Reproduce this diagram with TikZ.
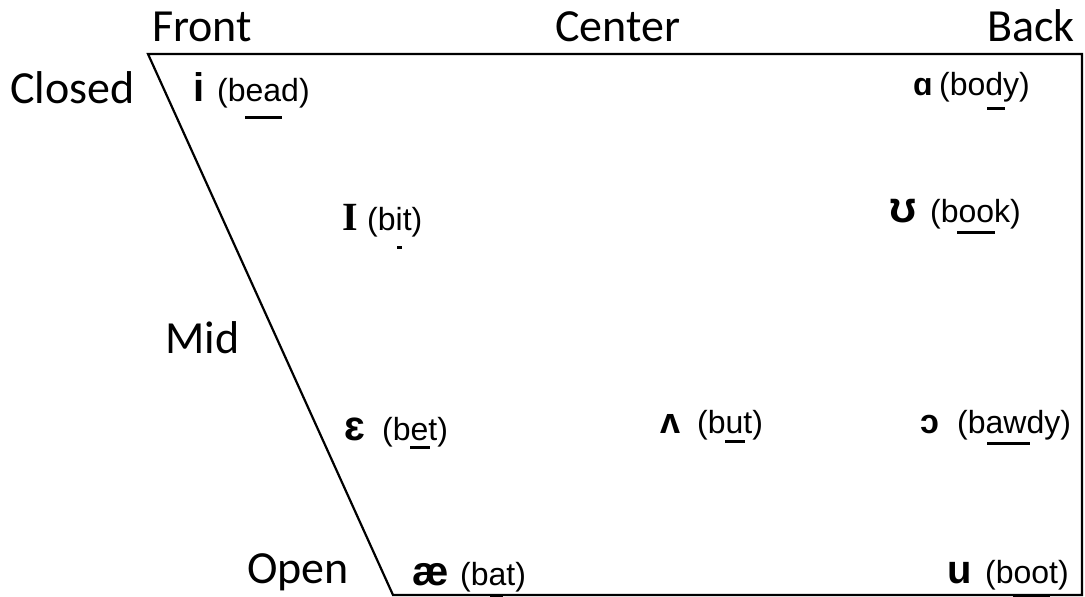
\documentclass[tikz,border=0pt]{standalone}
\usepackage{fontspec}
\setmainfont{Liberation Sans}
\newfontfamily\labfont{Carlito}
\newfontfamily\serfont{Liberation Serif}
\begin{document}
\begin{tikzpicture}[x=1pt,y=-1pt,
  lab/.style={inner sep=0, anchor=base west, font=\labfont\fontsize{46}{50}\selectfont},
  word/.style={inner sep=0, anchor=base west, font=\fontsize{32}{36}\selectfont},
  sym/.style={inner sep=0, anchor=base west, font=\bfseries\fontsize{#1}{44}\selectfont},
  sym/.default=36,
  frame/.style={line width=2.2pt, line join=miter},
  ul/.style={line width=3pt}]
\useasboundingbox (0,0) rectangle (1085,597);
\draw[frame] (148,54) -- (1082,54) -- (1082,595) -- (393,595) -- cycle;
% axis labels
\node[lab] (front) at (152,41) {Front};
\node[lab] (center) at (555,41) {Center};
\node[lab, anchor=base east] (back) at (1075,41) {Back};
\node[lab] (closed) at (10,103) {Closed};
\node[lab] (mid) at (165,353) {Mid};
\node[lab] (open) at (247,583) {Open};
% symbols
\node[sym=40] (si) at (193,101) {i};
\node[sym=32] (sa) at (913,95) {ɑ};
\node[sym, font=\serfont\bfseries\fontsize{40}{44}\selectfont] (sI) at (342,230) {I};
\node[sym=44] (su) at (889,222) {ʊ};
\node[sym=42] (se) at (344,440) {ɛ};
\node[sym=36] (sv) at (660,433) {ʌ};
\node[sym=34] (so) at (920,433) {ɔ};
\node[sym=41] (sae) at (412,585) {æ};
\node[sym=40] (sU) at (947,583) {u};
% words
\node[word] (wbead) at (217,101) {(bead)};
\node[word] (wbody) at (939,95) {(body)};
\node[word] (wbit) at (367,230) {(bit)};
\node[word] (wbook) at (930,222) {(book)};
\node[word] (wbet) at (382,440) {(bet)};
\node[word] (wbut) at (697,433) {(but)};
\node[word] (wbawdy) at (957,433) {(bawdy)};
\node[word] (wbat) at (460,585) {(bat)};
\node[word] (wboot) at (985,583) {(boot)};
% underlines
\draw[ul] (245,117) -- (282,117);
\draw[ul] (987,108) -- (1005,108);
\draw[ul] (397,247) -- (402,247);
\draw[ul] (957,232) -- (995,232);
\draw[ul] (410,447) -- (430,447);
\draw[ul] (725,441) -- (745,441);
\draw[ul] (987,443) -- (1030,443);
\draw[ul, line width=4pt] (490,595.5) -- (503,595.5);
\draw[ul, line width=4pt] (1013,595.5) -- (1050,595.5);
\end{tikzpicture}
\end{document}
